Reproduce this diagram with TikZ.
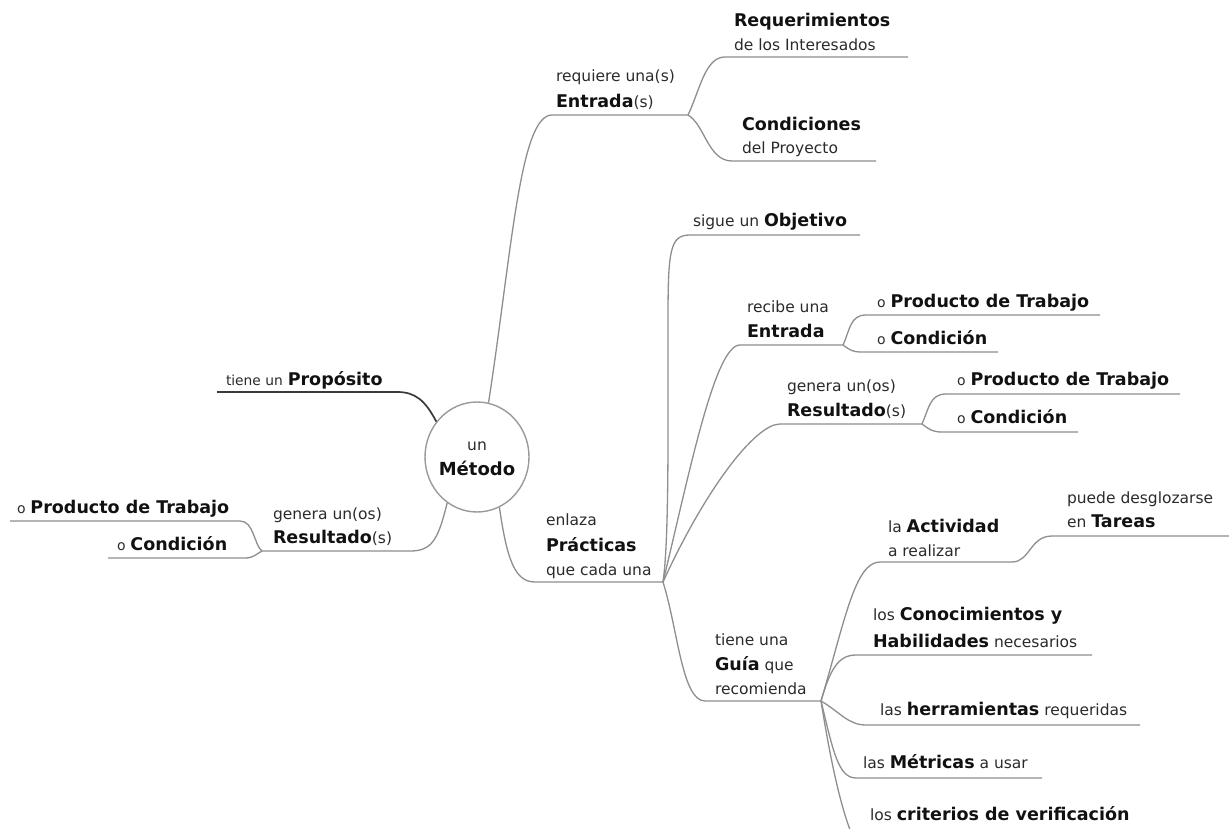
\documentclass[tikz,border=0pt]{standalone}
\usepackage{fontspec}
\setmainfont{DejaVu Sans}
\usetikzlibrary{shapes.geometric}
\newcommand\txtsize[1]{\fontsize{#1pt}{#1pt}\selectfont}
\newcommand\bigb[1]{{\txtsize{17.5}\bfseries\color{boldtext}#1}}
\newcommand\smallo{{\txtsize{14}o}}
\definecolor{branchgray}{HTML}{8E8E8E}
\definecolor{trunkdark}{HTML}{3A3A3A}
\definecolor{hubgray}{HTML}{9A9A9A}
\definecolor{plaintext}{HTML}{2A2A2A}
\definecolor{boldtext}{HTML}{111111}
\begin{document}
\begin{tikzpicture}[x=1pt,y=1pt,
  branch/.style={draw=branchgray, line width=1.3pt},
  trunk/.style={draw=trunkdark, line width=1.7pt},
  hub/.style={draw=hubgray, line width=1.4pt, fill=white, ellipse,
    minimum width=104pt, minimum height=110pt, inner sep=0pt},
  lbl/.style={anchor=base west, inner sep=0pt, outer sep=0pt,
    text=plaintext, font=\txtsize{15.5}},
  clbl/.style={anchor=base, inner sep=0pt, outer sep=0pt,
    text=plaintext, font=\txtsize{15.5}}]
\useasboundingbox (0,0) rectangle (1229,-829);
\clip (0,0) rectangle (1229,-829);

% junction points where sub-branches split
\coordinate (jTop) at (688,-115);
\coordinate (jL) at (262,-551);
\coordinate (jP) at (663,-582);
\coordinate (jE) at (843,-345);
\coordinate (jR) at (922,-424);
\coordinate (jG) at (821,-701);
\coordinate (jA) at (1012,-562);

% free ends of the underlines
\coordinate (eReq) at (908,-57);
\coordinate (eCond) at (876,-161);
\coordinate (eProp) at (217,-392);
\coordinate (eLProd) at (10,-521);
\coordinate (eLCond) at (108,-558);
\coordinate (eObj) at (860,-235);
\coordinate (eEProd) at (1100,-315);
\coordinate (eECond) at (998,-352);
\coordinate (eRProd) at (1180,-394);
\coordinate (eRCond) at (1078,-432);
\coordinate (eTar) at (1229,-536);
\coordinate (eCon) at (1092,-655);
\coordinate (eHer) at (1140,-725);
\coordinate (eMet) at (1042,-778);
\coordinate (eCri) at (852,-835);

% central topic
\node[hub] (hub) at (477,-457) {};
\node[clbl] (hubun) at (477,-450) {un};
\node[clbl] (hubmet) at (477,-475) {{\txtsize{18}\bfseries\color{boldtext}Método}};

% branches from the central topic
\draw[branch] (hub.78) .. controls (512,-250) and (520,-115) .. (552,-115) -- (jTop);
\draw[trunk] (hub.139) .. controls (425,-400) and (415,-392) .. (397,-392) -- (eProp);
\draw[branch] (hub.237) .. controls (438,-540) and (432,-551) .. (410,-551) -- (jL);
\draw[branch] (hub.294) .. controls (507,-560) and (515,-582) .. (535,-582) -- (jP);

% inputs
\draw[branch] (jTop) .. controls (700,-90) and (705,-57) .. (725,-57) -- (eReq);
\draw[branch] (jTop) .. controls (705,-125) and (708,-161) .. (732,-161) -- (eCond);

% results on the left
\draw[branch] (jL) .. controls (254,-545) and (254,-521) .. (240,-521) -- (eLProd);
\draw[branch] (jL) .. controls (256,-554) and (254,-558) .. (245,-558) -- (eLCond);

% practices
\draw[branch] (jP) .. controls (669,-540) and (668,-440) .. (668,-320)
  .. controls (668,-250) and (670,-235) .. (690,-235) -- (eObj);
\draw[branch] (jP) .. controls (690,-470) and (715,-345) .. (740,-345) -- (jE);
\draw[branch] (jE) .. controls (850,-330) and (850,-315) .. (866,-315) -- (eEProd);
\draw[branch] (jE) .. controls (850,-350) and (852,-352) .. (862,-352) -- (eECond);
\draw[branch] (jP) .. controls (705,-490) and (755,-424) .. (780,-424) -- (jR);
\draw[branch] (jR) .. controls (929,-408) and (930,-394) .. (946,-394) -- (eRProd);
\draw[branch] (jR) .. controls (929,-429) and (932,-432) .. (942,-432) -- (eRCond);
\draw[branch] (jP) .. controls (678,-630) and (682,-701) .. (705,-701) -- (jG);

% guide
\draw[branch] (jG) .. controls (845,-620) and (855,-562) .. (880,-562) -- (jA);
\draw[branch] (jA) .. controls (1030,-562) and (1030,-536) .. (1052,-536) -- (eTar);
\draw[branch] (jG) .. controls (830,-670) and (838,-655) .. (856,-655) -- (eCon);
\draw[branch] (jG) .. controls (840,-712) and (848,-725) .. (866,-725) -- (eHer);
\draw[branch] (jG) .. controls (833,-750) and (838,-778) .. (856,-778) -- (eMet);
\draw[branch] (jG) .. controls (832,-770) and (842,-810) .. (eCri);

% labels
\node[lbl] (req1) at (734,-27) {\bigb{Requerimientos}};
\node[lbl] (req2) at (734,-51) {de los Interesados};
\node[lbl] (cond1) at (742,-131) {\bigb{Condiciones}};
\node[lbl] (cond2) at (742,-154) {del Proyecto};
\node[lbl] (ent1) at (556,-82) {requiere una(s)};
\node[lbl] (ent2) at (556,-108) {\bigb{Entrada}(s)};

\node[lbl] (prop) at (226,-385) {{\txtsize{13.8}tiene un} \bigb{Propósito}};

\node[lbl] (gen1) at (273,-519) {genera un(os)};
\node[lbl] (gen2) at (273,-543) {\bigb{Resultado}(s)};
\node[lbl] (lprod) at (17,-513) {\smallo\ \bigb{Producto de Trabajo}};
\node[lbl] (lcond) at (117,-550) {\smallo\ \bigb{Condición}};

\node[lbl] (enl1) at (546,-525) {enlaza};
\node[lbl] (enl2) at (546,-551) {\bigb{Prácticas}};
\node[lbl] (enl3) at (546,-575) {que cada una};

\node[lbl] (obj) at (693,-227) {sigue un \bigb{Objetivo}};

\node[lbl] (rec1) at (747,-312) {recibe una};
\node[lbl] (rec2) at (747,-337) {\bigb{Entrada}};
\node[lbl] (eprod) at (877,-307) {\smallo\ \bigb{Producto de Trabajo}};
\node[lbl] (econd) at (877,-344) {\smallo\ \bigb{Condición}};

\node[lbl] (gr1) at (787,-391) {genera un(os)};
\node[lbl] (gr2) at (787,-416) {\bigb{Resultado}(s)};
\node[lbl] (rprod) at (957,-385) {\smallo\ \bigb{Producto de Trabajo}};
\node[lbl] (rcond) at (957,-423) {\smallo\ \bigb{Condición}};

\node[lbl] (guia1) at (715,-645) {tiene una};
\node[lbl] (guia2) at (715,-670) {\bigb{Guía} que};
\node[lbl] (guia3) at (715,-694) {recomienda};

\node[lbl] (act1) at (888,-532) {la \bigb{Actividad}};
\node[lbl] (act2) at (888,-556) {a realizar};
\node[lbl] (tar1) at (1067,-503) {puede desglozarse};
\node[lbl] (tar2) at (1067,-527) {en \bigb{Tareas}};
\node[lbl] (con1) at (873,-620) {los \bigb{Conocimientos y}};
\node[lbl] (con2) at (873,-647) {\bigb{Habilidades} necesarios};
\node[lbl] (her) at (880,-715) {las \bigb{herramientas} requeridas};
\node[lbl] (met) at (863,-768) {las \bigb{Métricas} a usar};
\node[lbl] (cri) at (870,-820) {los \bigb{criterios de verificación}};
\end{tikzpicture}
\end{document}
